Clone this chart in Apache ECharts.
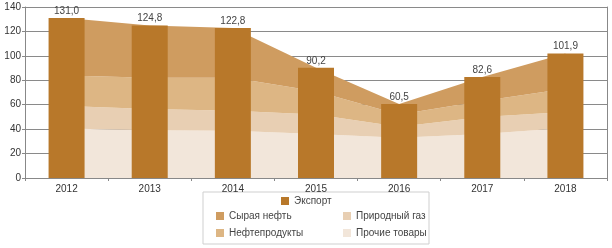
<!DOCTYPE html>
<html>
<head>
<meta charset="utf-8">
<script src="https://cdn.jsdelivr.net/npm/echarts@6/dist/echarts.min.js"></script>
<style>
    html, body { margin: 0; padding: 0; background: #fff; }
    #chart { width: 612px; height: 248px; }
</style>
</head>
<body>
<div id="chart"></div>
<script>
//данные
var years = ['2012', '2013', '2014', '2015', '2016', '2017', '2018'];
var exportTotal = [131.0, 124.8, 122.8, 90.2, 60.5, 82.6, 101.9];
var otherGoods = [40.5, 39, 38.7, 36, 33, 36, 41];
var naturalGas = [18.5, 17.5, 16.3, 16, 9, 14, 13];
var oilProducts = [25, 25.5, 27, 19, 10, 13, 19];
var crudeOil = [47, 42.8, 40.8, 19.2, 8.5, 19.6, 28.9];
var yTicks = [0, 20, 40, 60, 80, 100, 120, 140];

var chart = echarts.init(document.getElementById('chart'));

function area(name, data, color) {
    return {
        name: name,
        type: 'line',
        stack: 'parts',
        data: data,
        symbol: 'none',
        lineStyle: { width: 0 },
        areaStyle: { color: color, opacity: 1 },
        itemStyle: { color: color },
        z: 1
    };
}

var font = 'Liberation Sans';
var legendText = { fontSize: 10, color: '#444' };

var option = {
    animation: false,
    textStyle: { fontFamily: font },
    grid: { left: 25, right: 5, top: 7, bottom: 70 },
    legend: [{
        data: ['Экспорт'],
        left: 281, top: 196, padding: 0,
        icon: 'rect',
        itemWidth: 8, itemHeight: 8, itemGap: 6,
        textStyle: legendText
    }, {
        data: ['Сырая нефть', 'Нефтепродукты'],
        orient: 'vertical',
        left: 216, top: 211, padding: 0,
        icon: 'rect',
        itemWidth: 8, itemHeight: 8, itemGap: 7,
        textStyle: legendText
    }, {
        data: ['Природный газ', 'Прочие товары'],
        orient: 'vertical',
        left: 343, top: 211, padding: 0,
        icon: 'rect',
        itemWidth: 8, itemHeight: 8, itemGap: 7,
        textStyle: legendText
    }],
    graphic: [{
        type: 'rect',
        shape: { x: 203, y: 192, width: 226, height: 52 },
        style: { fill: 'none', stroke: '#cfcfcf', lineWidth: 1 }
    }],
    xAxis: {
        type: 'category',
        data: years,
        axisLine: { lineStyle: { color: '#888' } },
        axisTick: { show: true, alignWithLabel: false, length: 3, lineStyle: { color: '#888' } },
        axisLabel: { fontSize: 10, color: '#333', margin: 6 }
    },
    yAxis: [{
        type: 'value',
        min: 0, max: 140, interval: 20,
        axisLine: { show: true, lineStyle: { color: '#888' } },
        axisTick: { show: true, length: 3, lineStyle: { color: '#888' } },
        axisLabel: {
            fontSize: 10, color: '#333', margin: 4,
            formatter: function(v) { return yTicks.indexOf(v) >= 0 ? String(v) : ''; }
        },
        splitLine: { lineStyle: { color: '#8a8a8a', width: 1 } }
    }, {
        type: 'value',
        min: 0, max: 140, interval: 20,
        position: 'right',
        axisLine: { show: true, lineStyle: { color: '#888' } },
        axisTick: { show: false },
        axisLabel: { show: false },
        splitLine: { show: false }
    }],
    series: [
        area('Прочие товары', otherGoods, '#f2e6da'),
        area('Природный газ', naturalGas, '#e8cfb3'),
        area('Нефтепродукты', oilProducts, '#ddb684'),
        area('Сырая нефть', crudeOil, '#cf9c60'),
        {
            name: 'Экспорт',
            type: 'bar',
            data: exportTotal,
            barWidth: 36,
            itemStyle: { color: '#b8782a' },
            z: 3,
            label: {
                show: true,
                position: 'top',
                distance: 2,
                fontSize: 10,
                color: '#444',
                formatter: function(p) { return p.value.toFixed(1).replace('.', ','); }
            }
        }
    ]
};

chart.setOption(option);
</script>
</body>
</html>
